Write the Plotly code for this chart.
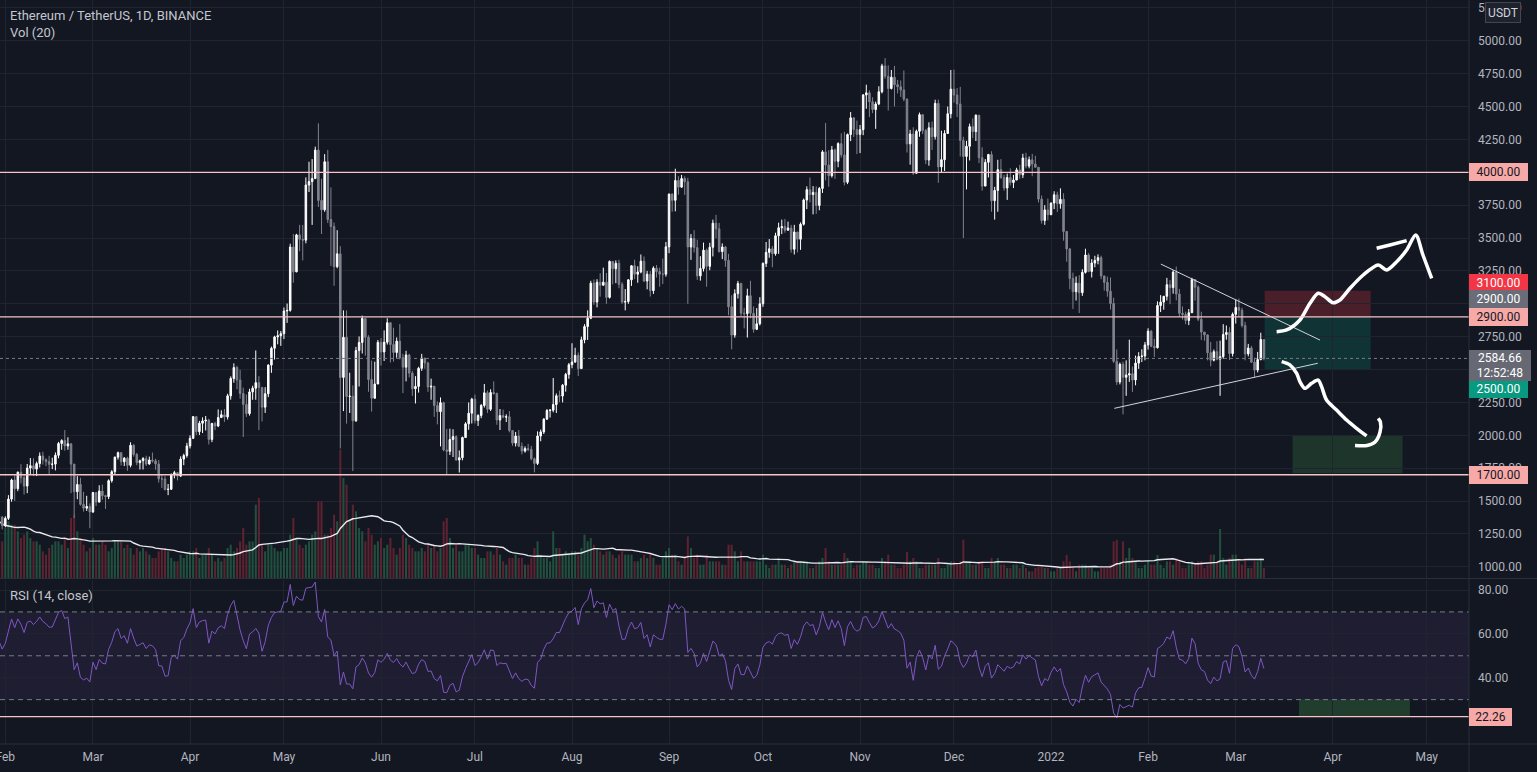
import numpy as np
import pandas as pd
import plotly.graph_objects as go

# ---------------- data (daily, from 2021-01-10) ----------------
START_DATE = "2021-01-10"
FIRST_OPEN = 1270.0

closes = (
    [1192, 1087, 1046, 1131, 1218, 1171, 1233, 1230, 1256, 1375, 1383, 1120, 1236, 1231, 1391, 1324, 1357, 1252, 1331, 1382, 1377, 1314]  # 2021-01 (10..31)
    + [1369, 1515, 1660, 1594, 1719, 1677, 1614, 1751, 1769, 1743, 1785, 1843, 1814, 1800, 1779, 1781, 1848, 1938, 1960, 1919, 1935, 1781, 1571, 1626, 1475, 1446, 1459, 1417]  # 2021-02
    + [1565, 1492, 1576, 1541, 1534, 1655, 1723, 1834, 1868, 1799, 1826, 1772, 1924, 1855, 1792, 1807, 1823, 1782, 1812, 1806, 1782, 1669, 1668, 1588, 1590, 1700, 1716, 1690, 1819, 1846, 1919]  # 2021-03
    + [1977, 2142, 2028, 2092, 2109, 2115, 1969, 2090, 2071, 2135, 2156, 2140, 2300, 2432, 2515, 2420, 2317, 2235, 2165, 2330, 2358, 2400, 2364, 2214, 2316, 2534, 2662, 2748, 2757, 2773]  # 2021-04
    + [2945, 2950, 3432, 3243, 3524, 3490, 3484, 3903, 3929, 3952, 4169, 3786, 3715, 4080, 3641, 3588, 3282, 3380, 2440, 2745, 2295, 2297, 2110, 2644, 2706, 2888, 2746, 2424, 2282, 2390, 2707]  # 2021-05
    + [2634, 2708, 2856, 2690, 2630, 2716, 2590, 2518, 2611, 2473, 2354, 2372, 2509, 2587, 2550, 2367, 2373, 2226, 2180, 2248, 1889, 1878, 1968, 1990, 1812, 1830, 1983, 2087, 2168, 2275]  # 2021-06
    + [2113, 2151, 2227, 2323, 2198, 2325, 2317, 2116, 2150, 2138, 2141, 2036, 1941, 1995, 1917, 1880, 1899, 1893, 1821, 1786, 1995, 2026, 2123, 2188, 2191, 2234, 2300, 2299, 2381, 2463, 2537]  # 2021-07
    + [2557, 2608, 2507, 2726, 2827, 2890, 3157, 3013, 3164, 3141, 3164, 3049, 3322, 3266, 3308, 3148, 3013, 3017, 3182, 3289, 3225, 3242, 3324, 3173, 3225, 3100, 3271, 3245, 3225, 3225, 3433]  # 2021-08
    + [3834, 3787, 3938, 3887, 3952, 3928, 3432, 3497, 3427, 3212, 3268, 3408, 3285, 3430, 3613, 3570, 3397, 3432, 3330, 2977, 2762, 3077, 3154, 2929, 2925, 3061, 2928, 2806, 2848, 3000]  # 2021-09
    + [3307, 3391, 3418, 3381, 3517, 3578, 3587, 3560, 3576, 3415, 3546, 3491, 3605, 3789, 3868, 3830, 3847, 3747, 3877, 4155, 4055, 3974, 4170, 4084, 4218, 4132, 3924, 4287, 4414, 4325, 4288]  # 2021-10
    + [4324, 4588, 4604, 4536, 4477, 4519, 4612, 4809, 4730, 4637, 4723, 4666, 4650, 4626, 4556, 4216, 4291, 3993, 4312, 4438, 4317, 4093, 4338, 4271, 4524, 4041, 4096, 4295, 4445, 4632]  # 2021-11
    + [4587, 4519, 4242, 4120, 4198, 4347, 4309, 4434, 4111, 3895, 4076, 4135, 3784, 3862, 4020, 3960, 3880, 3960, 3922, 3941, 4018, 3981, 4109, 4047, 4095, 4063, 4038, 3796, 3633, 3714, 3677]  # 2021-12
    + [3766, 3829, 3761, 3794, 3550, 3417, 3193, 3092, 3157, 3084, 3239, 3371, 3246, 3310, 3330, 3351, 3212, 3163, 3096, 3002, 2563, 2405, 2540, 2441, 2459, 2468, 2421, 2549, 2599, 2603, 2687]  # 2022-01
    + [2792, 2677, 2666, 2987, 3013, 3057, 3145, 3123, 3241, 3074, 2928, 2918, 2873, 2932, 3184, 3126, 2883, 2785, 2763, 2628, 2571, 2636, 2579, 2598, 2767, 2782, 2622, 2920]  # 2022-02
    + [2972, 2951, 2835, 2619, 2664, 2556, 2496, 2576, 2728, 2584.66]  # 2022-03 (1..10)
)

highs = (
    [1275, 1200, 1150, 1145, 1250, 1245, 1290, 1265, 1262, 1440, 1400, 1385, 1265, 1275, 1472, 1475, 1375, 1360, 1355, 1425, 1430, 1386]
    + [1384, 1545, 1670, 1695, 1725, 1780, 1705, 1782, 1827, 1825, 1800, 1870, 1875, 1825, 1844, 1830, 1870, 1950, 1970, 2040, 1985, 1940, 1782, 1690, 1677, 1570, 1540, 1483]
    + [1570, 1567, 1620, 1625, 1548, 1665, 1735, 1838, 1876, 1870, 1835, 1837, 1947, 1933, 1866, 1815, 1834, 1845, 1838, 1869, 1822, 1812, 1700, 1690, 1630, 1710, 1730, 1720, 1840, 1860, 1943]
    + [2000, 2146, 2145, 2110, 2136, 2147, 2126, 2095, 2103, 2197, 2190, 2200, 2316, 2448, 2547, 2528, 2498, 2362, 2310, 2354, 2377, 2645, 2450, 2331, 2366, 2540, 2675, 2757, 2797, 2793]
    + [2972, 3002, 3457, 3530, 3532, 3600, 3600, 3961, 4080, 4100, 4195, 4372, 3950, 4138, 4170, 3885, 3618, 3560, 3438, 2950, 2950, 2476, 2379, 2672, 2752, 2910, 2888, 2761, 2568, 2560, 2725]
    + [2740, 2798, 2890, 2857, 2818, 2744, 2846, 2620, 2643, 2619, 2490, 2450, 2521, 2619, 2588, 2560, 2431, 2376, 2258, 2288, 2255, 2049, 2050, 2046, 2000, 1885, 1990, 2100, 2250, 2285]
    + [2310, 2160, 2238, 2390, 2340, 2350, 2410, 2325, 2200, 2195, 2160, 2184, 2040, 2025, 2040, 1945, 1916, 1935, 1920, 1831, 2030, 2044, 2130, 2200, 2200, 2436, 2318, 2340, 2390, 2475, 2550]
    + [2700, 2666, 2630, 2750, 2845, 2950, 3175, 3185, 3187, 3232, 3275, 3235, 3330, 3305, 3330, 3335, 3165, 3112, 3188, 3295, 3335, 3285, 3375, 3360, 3250, 3250, 3285, 3295, 3275, 3344, 3470]
    + [3838, 3840, 4027, 3970, 3980, 3969, 3958, 3530, 3560, 3488, 3362, 3465, 3420, 3464, 3640, 3676, 3615, 3459, 3440, 3380, 3065, 3110, 3174, 3160, 2970, 3115, 3175, 2980, 2967, 3050]
    + [3315, 3470, 3492, 3440, 3540, 3617, 3640, 3645, 3625, 3600, 3600, 3545, 3619, 3800, 3893, 3960, 3895, 3893, 3888, 4168, 4375, 4168, 4200, 4180, 4228, 4296, 4307, 4295, 4458, 4390, 4393]
    + [4360, 4595, 4666, 4623, 4570, 4537, 4654, 4825, 4868, 4813, 4778, 4809, 4703, 4698, 4774, 4562, 4323, 4342, 4325, 4454, 4442, 4330, 4380, 4385, 4552, 4552, 4316, 4320, 4500, 4778]
    + [4780, 4640, 4650, 4270, 4239, 4370, 4410, 4440, 4430, 4190, 4100, 4140, 4160, 3889, 4095, 4100, 3980, 3990, 4030, 3980, 4034, 4057, 4141, 4148, 4120, 4140, 4125, 4040, 3823, 3750, 3800]
    + [3770, 3856, 3852, 3878, 3840, 3555, 3425, 3237, 3208, 3218, 3263, 3419, 3385, 3340, 3365, 3376, 3366, 3188, 3207, 3200, 3046, 2653, 2553, 2560, 2570, 2727, 2523, 2606, 2632, 2654, 2710]
    + [2814, 2800, 2734, 3018, 3066, 3060, 3197, 3180, 3255, 3283, 3113, 2980, 2940, 2960, 3198, 3188, 3140, 2940, 2785, 2768, 2710, 2652, 2716, 2720, 2845, 2835, 2822, 2934]
    + [3033, 3040, 2970, 2863, 2695, 2680, 2590, 2634, 2780, 2730]
)

lows = (
    [1051, 990, 1000, 1040, 1120, 1110, 1150, 1170, 1225, 1245, 1285, 1100, 1110, 1195, 1230, 1255, 1260, 1235, 1245, 1320, 1340, 1285]
    + [1301, 1356, 1495, 1501, 1575, 1634, 1550, 1560, 1700, 1690, 1690, 1755, 1777, 1765, 1700, 1743, 1733, 1825, 1890, 1883, 1890, 1560, 1371, 1514, 1465, 1420, 1425, 1293]
    + [1410, 1462, 1490, 1510, 1440, 1515, 1640, 1700, 1815, 1770, 1766, 1730, 1757, 1838, 1772, 1740, 1740, 1767, 1776, 1792, 1738, 1640, 1600, 1580, 1545, 1584, 1673, 1657, 1683, 1773, 1830]
    + [1900, 1973, 2002, 2003, 2017, 2037, 1930, 1948, 2040, 2062, 2134, 2102, 2120, 2271, 2400, 2350, 2278, 1987, 2140, 2150, 2270, 2270, 2040, 2106, 2170, 2290, 2475, 2576, 2692, 2680]
    + [2732, 2855, 2940, 3160, 3240, 3400, 3330, 3460, 3850, 3600, 3950, 3736, 3531, 3700, 3614, 3288, 3137, 3270, 1900, 2184, 2089, 2170, 1728, 2102, 2371, 2622, 2605, 2331, 2180, 2300, 2410]
    + [2530, 2565, 2690, 2554, 2560, 2590, 2577, 2321, 2410, 2440, 2300, 2242, 2325, 2490, 2506, 2330, 2270, 2140, 2083, 1916, 1879, 1700, 1850, 1835, 1808, 1717, 1810, 1988, 2042, 2090]
    + [2090, 2071, 2130, 2211, 2170, 2185, 2310, 2080, 2040, 2130, 2101, 2022, 1920, 1915, 1910, 1855, 1868, 1878, 1810, 1718, 1774, 1955, 2010, 2118, 2135, 2175, 2170, 2252, 2250, 2332, 2430]
    + [2510, 2552, 2451, 2506, 2700, 2725, 2883, 2992, 2973, 3054, 3140, 3000, 3040, 3147, 3157, 3118, 3000, 2950, 3000, 3136, 3188, 3160, 3232, 3165, 3110, 3055, 3075, 3200, 3130, 3150, 3206]
    + [3385, 3700, 3703, 3830, 3883, 3828, 3000, 3334, 3390, 3182, 3176, 3246, 3130, 3255, 3360, 3498, 3390, 3340, 3281, 2913, 2654, 2742, 3040, 2905, 2813, 2743, 2890, 2781, 2800, 2835]
    + [2977, 3280, 3350, 3278, 3366, 3380, 3530, 3540, 3556, 3389, 3375, 3391, 3410, 3595, 3720, 3770, 3680, 3684, 3711, 3843, 3939, 3890, 3960, 3950, 4038, 4111, 3900, 3910, 4237, 4268, 4138]
    + [4146, 4282, 4483, 4420, 4450, 4330, 4510, 4600, 4711, 4470, 4630, 4500, 4600, 4573, 4540, 4150, 4058, 3980, 3988, 4270, 4290, 4062, 4050, 4170, 4249, 3920, 4000, 4010, 4295, 4410]
    + [4530, 4420, 4120, 3500, 3870, 4090, 4260, 4238, 4070, 3860, 3898, 3961, 3700, 3640, 3700, 3950, 3860, 3790, 3900, 3880, 3940, 3950, 3956, 4030, 4030, 3970, 4036, 3770, 3610, 3600, 3634]
    + [3676, 3720, 3698, 3723, 3480, 3320, 3110, 2960, 3025, 2930, 3060, 3230, 3240, 3200, 3278, 3300, 3187, 3100, 3054, 2956, 2550, 2383, 2387, 2159, 2300, 2406, 2330, 2380, 2505, 2557, 2570]
    + [2652, 2670, 2596, 2660, 2937, 2955, 3025, 2997, 3077, 3026, 2900, 2880, 2845, 2838, 2932, 3024, 2868, 2725, 2719, 2570, 2525, 2562, 2570, 2300, 2582, 2727, 2573, 2600]
    + [2850, 2900, 2820, 2570, 2600, 2550, 2440, 2478, 2570, 2570]
)

# volume in thousand ETH
volumes = (
    [2200, 2700, 2400, 2000, 2100, 1900, 1500, 1200, 1100, 1900, 1900, 2300, 1800, 1100, 1500, 1600, 1400, 1500, 1300, 1600, 1200, 1100]
    + [1500, 1700, 1600, 1600, 1400, 1200, 1300, 1400, 1200, 1100, 1100, 1000, 800, 700, 900, 1000, 1100, 1100, 1000, 1200, 900, 1800, 1900, 1400, 1200, 1000, 800, 900]
    + [1200, 1000, 1000, 1100, 1000, 800, 900, 1100, 1100, 1100, 900, 1000, 900, 700, 900, 800, 900, 800, 700, 600, 600, 800, 900, 900, 800, 600, 500, 500, 700, 600, 700]
    + [800, 800, 900, 600, 700, 700, 900, 700, 500, 600, 500, 600, 900, 1000, 800, 900, 1100, 1500, 1000, 1100, 1100, 2200, 2400, 1000, 800, 1000, 1000, 900, 800, 800]
    + [900, 900, 1300, 1800, 1200, 1000, 900, 1000, 1100, 1300, 1400, 2300, 2300, 1300, 1300, 1500, 1900, 1700, 3850, 3000, 2800, 1700, 2200, 2000, 1500, 1400, 1100, 1500, 1300, 1000, 1100]
    + [1200, 900, 1000, 1200, 900, 700, 900, 1300, 1200, 1000, 900, 800, 800, 900, 800, 1000, 900, 1000, 800, 900, 1700, 1800, 1200, 900, 1000, 800, 800, 1000, 1000, 900]
    + [900, 700, 600, 600, 800, 800, 700, 900, 700, 500, 400, 600, 600, 700, 600, 600, 400, 400, 600, 900, 1100, 700, 600, 600, 500, 1400, 900, 900, 700, 800, 700]
    + [800, 800, 700, 900, 1300, 1100, 1200, 1000, 900, 800, 700, 800, 800, 700, 600, 700, 800, 700, 700, 700, 500, 500, 600, 700, 600, 700, 600, 400, 400, 600, 800]
    + [900, 700, 700, 500, 400, 600, 1250, 900, 600, 700, 400, 400, 700, 500, 500, 500, 500, 400, 400, 1000, 1000, 800, 500, 800, 500, 500, 500, 500, 500, 500]
    + [700, 400, 300, 400, 400, 600, 400, 400, 300, 400, 500, 500, 500, 500, 500, 300, 300, 400, 500, 600, 900, 500, 400, 400, 400, 400, 750, 600, 500, 300, 400]
    + [400, 500, 500, 400, 400, 300, 300, 600, 500, 700, 400, 400, 300, 300, 400, 780, 500, 600, 500, 300, 300, 400, 400, 400, 400, 600, 300, 300, 400, 500]
    + [500, 400, 500, 1150, 500, 500, 400, 400, 500, 500, 300, 300, 600, 500, 600, 400, 400, 300, 300, 400, 400, 300, 400, 300, 200, 200, 300, 400, 400, 300, 300]
    + [200, 200, 300, 300, 500, 690, 500, 300, 200, 400, 400, 400, 300, 300, 200, 200, 300, 300, 300, 400, 1100, 1140, 500, 1100, 600, 900, 600, 500, 300, 300, 400]
    + [500, 400, 400, 690, 400, 300, 500, 500, 400, 600, 500, 300, 300, 400, 500, 400, 500, 500, 300, 400, 700, 700, 500, 1470, 600, 400, 600, 700]
    + [700, 500, 400, 600, 300, 300, 500, 500, 600, 300]
)

assert len(closes) == len(highs) == len(lows) == len(volumes)

# axis ticks / labels
month_ticks = ["2021-02-01", "2021-03-01", "2021-04-01", "2021-05-01", "2021-06-01", "2021-07-01",
               "2021-08-01", "2021-09-01", "2021-10-01", "2021-11-01", "2021-12-01", "2022-01-01",
               "2022-02-01", "2022-03-01", "2022-04-01", "2022-05-01"]
month_labels = ["Feb", "Mar", "Apr", "May", "Jun", "Jul", "Aug", "Sep", "Oct", "Nov", "Dec", "2022",
                "Feb", "Mar", "Apr", "May"]
price_ticks = [1000, 1250, 1500, 1750, 2000, 2250, 2500, 2750, 3000, 3250, 3500, 3750, 4000, 4250, 4500, 4750, 5000, 5250]
rsi_ticks = [40, 60, 80]

# drawings
h_levels = [4000, 2900, 1700]
rsi_level = 22.26
last_price = 2584.66
last_time = "12:52:48"

tri_upper_x = ["2022-02-05 02:00", "2022-03-27 22:00"]
tri_upper_y = [3302, 2724]
tri_lower_x = ["2022-01-21 05:00", "2022-03-27 05:00"]
tri_lower_y = [2205, 2548]

pos_x = ["2022-03-10 05:30", "2022-04-13 02:00"]
pos_stop, pos_entry, pos_target = 3100, 2900, 2500
tz_x = ["2022-03-19 04:00", "2022-04-23 07:00"]
tz_y = [1712, 2000]
rsi_zone_x = ["2022-03-21 05:00", "2022-04-25 15:00"]
rsi_zone_y = [22.26, 30]

up_x = ["2022-03-14 01:30", "2022-03-17 06:00", "2022-03-21 12:00", "2022-03-24 17:00", "2022-03-27 08:00",
        "2022-03-29 12:00", "2022-04-01 02:00", "2022-04-03 07:00", "2022-04-06 12:00", "2022-04-10 17:00",
        "2022-04-15 12:00", "2022-04-18 05:00", "2022-04-21 10:00", "2022-04-24 14:00", "2022-04-27 12:00",
        "2022-04-29 19:00", "2022-05-02 14:00"]
up_y = [2788, 2801, 2877, 3004, 3080, 3054, 3008, 3029, 3118, 3219, 3295, 3257, 3320, 3409, 3523, 3371, 3194]
cap_x = ["2022-04-15 00:00", "2022-04-19 06:00", "2022-04-24 14:00"]
cap_y = [3422, 3447, 3480]
down_x = ["2022-03-15 16:00", "2022-03-18 07:00", "2022-03-20 11:00", "2022-03-21 12:00", "2022-03-23 02:00",
          "2022-03-25 05:00", "2022-03-27 08:00", "2022-03-28 10:00", "2022-03-30 00:00", "2022-04-02 05:00",
          "2022-04-05 10:00", "2022-04-08 14:00", "2022-04-11 19:00"]
down_y = [2560, 2535, 2471, 2408, 2357, 2395, 2420, 2370, 2268, 2192, 2116, 2053, 1995]
hook_x = ["2022-04-08 02:00", "2022-04-11 22:00", "2022-04-14 12:00", "2022-04-16 02:00", "2022-04-16 05:00", "2022-04-15 12:00"]
hook_y = [1922, 1922, 1949, 2025, 2101, 2129]

# ---------------- derived series ----------------
dates = pd.date_range(START_DATE, periods=len(closes), freq="D")
c = np.array(closes, dtype=float)
opens = np.concatenate([[FIRST_OPEN], c[:-1]])
vol = np.array(volumes, dtype=float)
vol_ma = pd.Series(vol).rolling(20).mean().to_numpy()

# RSI(14) with Wilder smoothing
n = 14
diff = np.diff(c)
gain = np.clip(diff, 0, None)
loss = np.clip(-diff, 0, None)
ag = np.full(len(c), np.nan)
al = np.full(len(c), np.nan)
ag[n] = gain[:n].mean()
al[n] = loss[:n].mean()
for i in range(n + 1, len(c)):
    ag[i] = (ag[i - 1] * (n - 1) + gain[i - 1]) / n
    al[i] = (al[i - 1] * (n - 1) + loss[i - 1]) / n
rsi = 100 - 100 / (1 + ag / al)

# ---------------- style ----------------
BG = "#131722"
GRID = "#20242f"
TXT = "#b2b5be"
FONT = "Roboto"
UP = "#ffffff"
DOWN = "#80838d"
VOL_UP = "#22503f"
VOL_DN = "#5e2230"
PINK = "#f7a9a8"

W, H = 1537, 772
L_M, R_M, T_M, B_M = 0, 68, 0, 28
PW, PH = W - L_M - R_M, H - T_M - B_M  # 1469 x 744
main_dom = [1 - 578 / PH, 1]
rsi_dom = [0, (PH - 580) / PH]

fig = go.Figure()

vol_colors = [VOL_UP if cl >= op else VOL_DN for op, cl in zip(opens, c)]
fig.add_trace(go.Bar(x=dates, y=vol, marker=dict(color=vol_colors, line=dict(width=0)),
                     xaxis="x", yaxis="y", hoverinfo="skip"))
fig.add_trace(go.Scatter(x=dates, y=vol_ma, mode="lines", line=dict(color="#e8e9ee", width=1.4),
                         xaxis="x", yaxis="y", hoverinfo="skip"))

fig.add_trace(go.Candlestick(
    x=dates, open=opens, high=highs, low=lows, close=c,
    increasing=dict(line=dict(color=UP, width=1), fillcolor=UP),
    decreasing=dict(line=dict(color=DOWN, width=1), fillcolor=DOWN),
    whiskerwidth=0, xaxis="x", yaxis="y3", hoverinfo="skip"))

# triangle lines
fig.add_trace(go.Scatter(x=tri_upper_x, y=tri_upper_y, mode="lines", line=dict(color="#d1d4dc", width=1),
                         xaxis="x", yaxis="y3", hoverinfo="skip"))
fig.add_trace(go.Scatter(x=tri_lower_x, y=tri_lower_y, mode="lines", line=dict(color="#d1d4dc", width=1),
                         xaxis="x", yaxis="y3", hoverinfo="skip"))
# freehand brush strokes
for bx, by in [(up_x, up_y), (cap_x, cap_y), (down_x, down_y), (hook_x, hook_y)]:
    fig.add_trace(go.Scatter(x=bx, y=by, mode="lines", line=dict(color="#ffffff", width=3.5, shape="spline", smoothing=0.8),
                             xaxis="x", yaxis="y3", hoverinfo="skip"))

fig.add_trace(go.Scatter(x=dates, y=rsi, mode="lines", line=dict(color="#7e57c2", width=1),
                         xaxis="x", yaxis="y2", hoverinfo="skip"))

shapes = []
# rsi band + levels
shapes.append(dict(type="rect", xref="paper", yref="y2", x0=0, x1=1, y0=30, y1=70,
                   fillcolor="rgba(126,87,194,0.10)", line=dict(width=0), layer="below"))
for lv in [70, 50, 30]:
    shapes.append(dict(type="line", xref="paper", yref="y2", x0=0, x1=1, y0=lv, y1=lv,
                       line=dict(color="#787b86", width=1, dash="5px,4px")))
# position tool
shapes.append(dict(type="rect", xref="x", yref="y3", x0=pos_x[0], x1=pos_x[1], y0=pos_entry, y1=pos_stop,
                   fillcolor="rgba(242,54,69,0.25)", line=dict(width=0), layer="below"))
shapes.append(dict(type="rect", xref="x", yref="y3", x0=pos_x[0], x1=pos_x[1], y0=pos_target, y1=pos_entry,
                   fillcolor="rgba(8,153,129,0.22)", line=dict(width=0), layer="below"))
shapes.append(dict(type="rect", xref="x", yref="y3", x0=tz_x[0], x1=tz_x[1], y0=tz_y[0], y1=tz_y[1],
                   fillcolor="rgba(76,175,80,0.20)", line=dict(width=0), layer="below"))
shapes.append(dict(type="rect", xref="x", yref="y2", x0=rsi_zone_x[0], x1=rsi_zone_x[1], y0=rsi_zone_y[0], y1=rsi_zone_y[1],
                   fillcolor="rgba(76,175,80,0.25)", line=dict(width=0), layer="below"))
# horizontal levels
for lv in h_levels:
    shapes.append(dict(type="line", xref="paper", yref="y3", x0=0, x1=1, y0=lv, y1=lv,
                       line=dict(color="#f5c4c6", width=1.3)))
shapes.append(dict(type="line", xref="paper", yref="y2", x0=0, x1=1, y0=rsi_level, y1=rsi_level,
                   line=dict(color="#f5c4c6", width=1.3)))
# last price dotted line
shapes.append(dict(type="line", xref="paper", yref="y3", x0=0, x1=1, y0=last_price, y1=last_price,
                   line=dict(color="#787b86", width=1, dash="dot")))
# pane frame lines
sep_y = 1 - 578.5 / PH
shapes.append(dict(type="line", xref="paper", yref="paper", x0=0, x1=W / PW, y0=sep_y, y1=sep_y,
                   line=dict(color="#2a2e39", width=1)))
shapes.append(dict(type="line", xref="paper", yref="paper", x0=0, x1=W / PW, y0=0, y1=0,
                   line=dict(color="#2a2e39", width=1)))
shapes.append(dict(type="line", xref="paper", yref="paper", x0=1, x1=1, y0=-B_M / PH, y1=1,
                   line=dict(color="#2a2e39", width=1)))

ann = []
def legend_text(txt, ypix, size=13, color="#c3c6ce"):
    ann.append(dict(text=txt, xref="paper", yref="paper", x=8 / PW, y=1 - ypix / PH, xanchor="left",
                    yanchor="middle", showarrow=False, font=dict(family=FONT, size=size, color=color)))

legend_text("Ethereum / TetherUS, 1D, BINANCE", 16)
legend_text("Vol (20)", 33)
legend_text("RSI (14, close)", 595)

def price_label(val, yref, bg, fg, yshift=0, text=None, width=55):
    ann.append(dict(text=text or f"{val:.2f}", xref="paper", yref=yref, x=1, y=val, xanchor="left",
                    yanchor="middle", yshift=yshift, showarrow=False, bgcolor=bg, bordercolor=bg,
                    borderwidth=1, borderpad=1, width=width, height=14, align="center",
                    font=dict(family=FONT, size=12, color=fg)))

price_label(4000, "y3", PINK, "#131722")
price_label(pos_stop, "y3", "#f23645", "#ffffff", yshift=8)
price_label(pos_entry, "y3", "#6a6d78", "#ffffff", yshift=17.6)
price_label(2900, "y3", PINK, "#131722")
price_label(pos_target, "y3", "#089981", "#ffffff", yshift=-19.4)
price_label(1700, "y3", PINK, "#131722")
price_label(rsi_level, "y2", PINK, "#131722", width=39)
ann.append(dict(text=f"{last_price:.2f}<br>{last_time}", xref="paper", yref="y3", x=1, y=last_price,
                xanchor="left", yanchor="top", yshift=8.4, showarrow=False, bgcolor="#666974",
                bordercolor="#666974", borderwidth=1, borderpad=1, width=58, height=27, align="center",
                font=dict(family=FONT, size=12, color="#ffffff")))
ann.append(dict(text="USDT", xref="paper", yref="paper", x=1502.5 / PW, y=1 - 13 / PH, xanchor="center",
                yanchor="middle", showarrow=False, bgcolor="#1e222d", bordercolor="#434651", borderwidth=1,
                borderpad=2, width=30, height=15, font=dict(family=FONT, size=12, color="#d1d4dc")))

fig.update_layout(
    width=W, height=H, margin=dict(l=L_M, r=R_M, t=T_M, b=B_M, autoexpand=False),
    paper_bgcolor=BG, plot_bgcolor=BG, showlegend=False, hovermode=False,
    bargap=0.35, shapes=shapes, annotations=ann,
    font=dict(family=FONT, size=12, color=TXT),
    xaxis=dict(type="date", range=["2021-01-30 07:22", "2022-05-14 12:00"], anchor="y2",
               tickmode="array", tickvals=month_ticks, ticktext=month_labels,
               showgrid=True, gridcolor=GRID, gridwidth=1, zeroline=False, showline=False,
               ticks="", ticklabelstandoff=4, ticklabeloverflow="allow", automargin=False,
               tickfont=dict(family=FONT, size=12, color=TXT),
               rangeslider=dict(visible=False), fixedrange=True),
    yaxis=dict(domain=main_dom, range=[0, 578 * 30], visible=False, showgrid=False, zeroline=False,
               fixedrange=True, automargin=False),
    yaxis3=dict(domain=main_dom, overlaying="y", side="right", anchor="x", range=[915, 5310],
                tickmode="array", tickvals=price_ticks, tickformat=".2f",
                showgrid=True, gridcolor=GRID, zeroline=False, showline=False, ticks="",
                ticklabelstandoff=8, ticklabeloverflow="allow", automargin=False,
                tickfont=dict(family=FONT, size=12, color=TXT), fixedrange=True),
    yaxis2=dict(domain=rsi_dom, side="right", anchor="x", range=[9.76, 84.56],
                tickmode="array", tickvals=rsi_ticks, tickformat=".2f", automargin=False,
                showgrid=True, gridcolor=GRID, zeroline=False, showline=False, ticks="",
                ticklabelstandoff=8, tickfont=dict(family=FONT, size=12, color=TXT), fixedrange=True),
)

fig.write_html("out.html")
